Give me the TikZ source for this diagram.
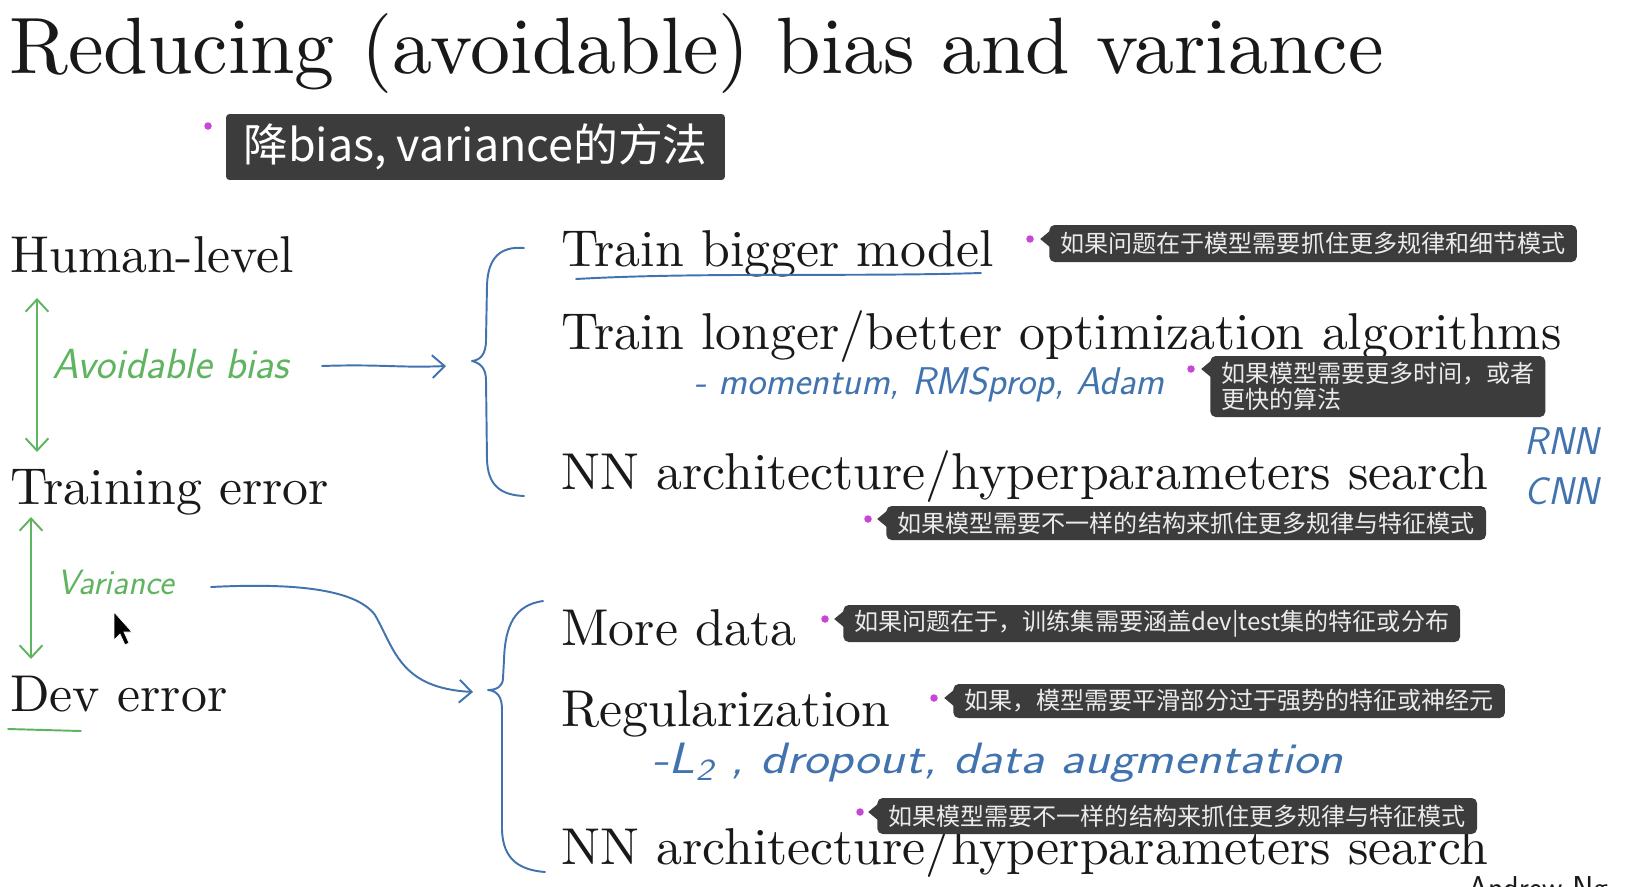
\documentclass[tikz,border=0pt]{standalone}
\usepackage{fontspec}
\setmainfont{lmroman10-regular.otf}[ItalicFont=lmroman10-italic.otf, BoldFont=lmroman10-bold.otf]
\newfontfamily\cjk{Noto Sans CJK SC}
\usetikzlibrary{arrows.meta}
\definecolor{ink}{RGB}{25,25,25}
\definecolor{hgreen}{RGB}{95,180,95}
\definecolor{hblue}{RGB}{65,115,175}
\definecolor{tipgray}{RGB}{60,60,60}
\definecolor{tiptext}{RGB}{235,235,235}
\definecolor{dotpink}{RGB}{200,70,215}
\newcommand\tipnotch[2]{\fill[tipgray] (#1.west |- #2) ++(1pt,5pt) -- ++(-6pt,-5pt) -- ++(6pt,-5pt) -- cycle;}
\begin{document}
\begin{tikzpicture}[x=0.02cm,y=-0.02cm,
  slide/.style={anchor=base west, inner sep=0pt, text=ink, font=\fontsize{29.5}{34}\selectfont},
  hand/.style={anchor=west, inner sep=0pt, font=\sffamily\itshape\fontsize{22}{26}\selectfont},
  tipbox/.style={anchor=west, fill=tipgray, rounded corners=3pt, text=tiptext, inner xsep=0.22cm, inner ysep=0pt, font=\cjk\fontsize{13.7}{15}\selectfont, align=left},
  pinkdot/.style={circle, fill=dotpink, inner sep=0pt, minimum size=0.15cm},
  pen/.style={line width=1.1pt, line cap=round, line join=round},
  barb/.style={-{Straight Barb[length=7pt,width=13pt]}},
  dbarb/.style={{Straight Barb[length=7pt,width=13pt]}-{Straight Barb[length=7pt,width=13pt]}}
]
\useasboundingbox (0,0) rectangle (1628,886);
\clip (0,0) rectangle (1628,886);
\fill[white] (0,0) rectangle (1628,886);

% title
\node[anchor=base west, inner sep=0pt, text=ink, font=\fontsize{45.5}{52}\selectfont] (title) at (9,73) {Reducing (avoidable) bias and variance};

% banner
\node[pinkdot] (d0) at (208,126) {};
\node[fill=tipgray, rounded corners=2pt, text=white, font=\cjk\fontsize{25.5}{30}\selectfont, minimum width=9.98cm, minimum height=1.32cm, inner sep=0pt] (banner) at (475.5,147) {降bias, variance的方法};

% left labels
\node[slide] (human) at (10,272) {Human-level};
\node[slide] (train) at (10,504) {Training error};
\node[slide] (dev) at (10,711) {Dev error};
\draw[hgreen, pen] (8,729) -- (81,731);

% green arrows
\coordinate (ga1) at (37,298);
\coordinate (ga2) at (37,452);
\draw[hgreen, pen, dbarb] (ga1) -- (ga2);
\coordinate (gb1) at (31,517);
\coordinate (gb2) at (31,659);
\draw[hgreen, pen, dbarb] (gb1) -- (gb2);

\node[hand, text=hgreen, font=\sffamily\itshape\fontsize{24}{28}\selectfont] (avb) at (52,364) {Avoidable bias};
\node[hand, text=hgreen, font=\sffamily\itshape\fontsize{20}{24}\selectfont] (var) at (57,582) {Variance};

% cursor
\filldraw[black, draw=white, line width=0.4pt] (114,612) -- (114,640) -- (120,634) -- (125,645) -- (129,643) -- (124,632) -- (132,632) -- cycle;

% upper brace
\coordinate (ubtip) at (472,361);
\draw[hblue, pen] (524,248) .. controls (500,246) and (488,258) .. (487,285) -- (486,340) .. controls (486,355) and (480,360) .. (ubtip) .. controls (480,363) and (486,368) .. (486,380) -- (487,460) .. controls (488,485) and (500,495) .. (524,496);
\coordinate (ua1) at (322,366);
\coordinate (ua2) at (446,366);
\draw[hblue, pen, barb] (ua1) .. controls (380,364) and (400,368) .. (ua2);

% lower brace
\coordinate (lbtip) at (488,690);
\draw[hblue, pen] (543,601) .. controls (515,605) and (505,625) .. (504,660) -- (503,678) .. controls (503,686) and (497,690) .. (lbtip) .. controls (497,691) and (502,696) .. (502,710) -- (502,830) .. controls (503,860) and (520,870) .. (545,872);
\coordinate (va1) at (211,587);
\coordinate (va2) at (473,692);
\draw[hblue, pen, barb] (va1) .. controls (290,583) and (355,588) .. (375,615) .. controls (395,650) and (400,688) .. (va2);

% right items
\node[slide] (r1) at (561,266) {Train bigger model};
\draw[hblue, pen] (576,279) .. controls (700,272) and (850,277) .. (981,273);
\node[slide] (r2) at (561,349) {Train longer/better optimization algorithms};
\node[hand, text=hblue] (mom) at (694,385) {- momentum, RMSprop, Adam};
\node[slide] (r3) at (561,489) {NN architecture/hyperparameters search};
\node[hand, text=hblue, anchor=center] (rnn) at (1562,441) {RNN};
\node[hand, text=hblue, anchor=center] (cnn) at (1562,491) {CNN};
\node[slide] (r4) at (561,645) {More data};
\node[slide] (r5) at (561,726) {Regularization};
\node[hand, text=hblue, font=\sffamily\itshape\fontsize{25}{30}\selectfont] (reg) at (652,763) {\scalebox{1.2}[1]{-L\textsubscript{2} , dropout, data augmentation}};
\node[slide] (r6) at (561,864) {NN architecture/hyperparameters search};
\node[anchor=base west, inner sep=0pt, text=ink, font=\sffamily\fontsize{18}{20}\selectfont] (ng) at (1468,898) {Andrew Ng};

% tooltips
\node[pinkdot] (d1) at (1030,239) {};
\node[tipbox, minimum height=0.74cm] (t1) at (1049,243.5) {如果问题在于模型需要抓住更多规律和细节模式};
\tipnotch{t1}{d1}
\node[pinkdot] (d2) at (1191,369) {};
\node[tipbox, minimum height=1.22cm] (t2) at (1210,386.5) {如果模型需要更多时间，或者\\更快的算法};
\tipnotch{t2}{d2}
\node[pinkdot] (d3) at (868,519) {};
\node[tipbox, minimum height=0.68cm] (t3) at (886,523) {如果模型需要不一样的结构来抓住更多规律与特征模式};
\tipnotch{t3}{d3}
\node[pinkdot] (d4) at (825,619) {};
\node[tipbox, minimum height=0.74cm] (t4) at (843,623.5) {如果问题在于，训练集需要涵盖dev|test集的特征或分布};
\tipnotch{t4}{d4}
\node[pinkdot] (d5) at (934,698) {};
\node[tipbox, minimum height=0.68cm] (t5) at (953,701) {如果，模型需要平滑部分过于强势的特征或神经元};
\tipnotch{t5}{d5}
\node[pinkdot] (d6) at (860,812) {};
\node[tipbox, minimum height=0.72cm] (t6) at (877,816) {如果模型需要不一样的结构来抓住更多规律与特征模式};
\tipnotch{t6}{d6}
\end{tikzpicture}
\end{document}
